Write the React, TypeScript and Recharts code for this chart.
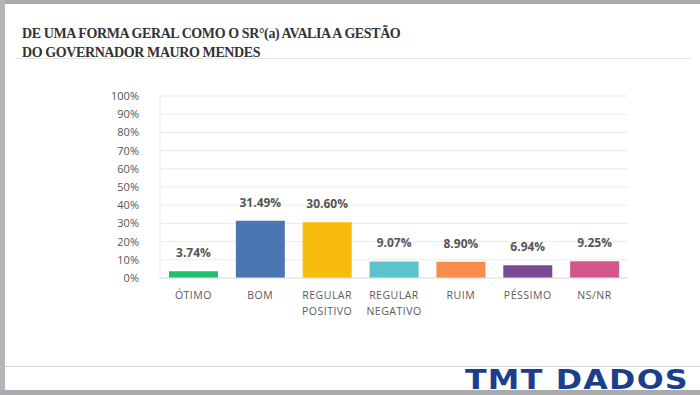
import { BarChart, Bar, XAxis, YAxis, CartesianGrid, Cell, LabelList } from 'recharts'

// Answers and shares (%)
const categories = ['ÓTIMO', 'BOM', 'REGULAR POSITIVO', 'REGULAR NEGATIVO', 'RUIM', 'PÉSSIMO', 'NS/NR']
const shares = [3.74, 31.49, 30.6, 9.07, 8.9, 6.94, 9.25]
const barColors = ['#1fbf6e', '#4a77b4', '#f8bc0c', '#5cc3cd', '#f98b4b', '#7a4b92', '#d4578b']
const yTicks = [0, 10, 20, 30, 40, 50, 60, 70, 80, 90, 100]

const data = categories.map((name, i) => ({ name, value: shares[i] }))

const CategoryTick = (props: any) => {
  const { x, y, payload } = props
  const lines = String(payload.value).split(' ')
  return (
    <text x={x} y={y} textAnchor="middle" fill="#5a5a5a" fontSize={10.5} fontFamily="'Open Sans', sans-serif" letterSpacing={0.5}>
      {lines.map((l: string, i: number) => (
        <tspan key={i} x={x} dy={i === 0 ? 13 : 16}>{l}</tspan>
      ))}
    </text>
  )
}

const App = () => {
  return (
    <div style={{ position: 'fixed', left: 0, top: 0, width: 700, height: 395, background: '#fff', overflow: 'hidden' }}>
      {/* screenshot frame */}
      <div style={{ position: 'absolute', left: 0, top: 0, width: 700, height: 4, background: '#a9aaad' }} />
      <div style={{ position: 'absolute', left: 0, top: 0, width: 5, height: 395, background: '#b4b5b8' }} />
      <div style={{ position: 'absolute', left: 0, top: 390, width: 700, height: 5, background: '#a9aaad' }} />
      <div style={{ position: 'absolute', left: 5, top: 366, width: 695, height: 1, background: '#d4d4d4' }} />

      <div style={{ position: 'absolute', left: 22, top: 24, fontFamily: "'Liberation Serif', serif", fontWeight: 'bold', fontSize: 14, lineHeight: '19px', color: '#333', letterSpacing: -0.4 }}>
        <div>DE UMA FORMA GERAL COMO O SR°(a) AVALIA A GESTÃO</div>
        <div>DO GOVERNADOR MAURO MENDES</div>
      </div>
      <div style={{ position: 'absolute', left: 15, top: 58, width: 675, height: 1, background: '#e4e4e4' }} />

      <div style={{ position: 'absolute', left: 0, top: 0 }}>
        <BarChart width={700} height={395} data={data} margin={{ top: 96, right: 72, bottom: 77, left: 110 }}>
          <CartesianGrid vertical={false} stroke="#ececec" />
          <XAxis
            dataKey="name"
            interval={0}
            height={40}
            axisLine={{ stroke: '#e2e2e2' }}
            tickLine={false}
            tick={<CategoryTick />}
          />
          <YAxis
            domain={[0, 100]}
            ticks={yTicks}
            interval={0}
            width={50}
            axisLine={{ stroke: '#ececec' }}
            tickLine={false}
            tickMargin={15}
            tickFormatter={(v) => `${v}%`}
            tick={{ fontSize: 11, fill: '#555', fontFamily: "'Open Sans', sans-serif" }}
          />
          <Bar dataKey="value" barSize={49} isAnimationActive={false}>
            {data.map((d, i) => (
              <Cell key={d.name} fill={barColors[i]} />
            ))}
            <LabelList
              dataKey="value"
              position="top"
              offset={14}
              formatter={(v: any) => `${Number(v).toFixed(2)}%`}
              style={{ fontSize: 12, fontWeight: 'bold', fill: '#555', fontFamily: "'Open Sans', sans-serif" }}
            />
          </Bar>
        </BarChart>
      </div>

      <div style={{ position: 'absolute', left: 465, top: 366, fontFamily: "'DejaVu Sans', sans-serif", fontWeight: 'bold', fontSize: 26, lineHeight: '28px', color: '#1b3f8c', letterSpacing: 1, transform: 'scaleX(1.22)', transformOrigin: 'left top', whiteSpace: 'nowrap' }}>
        TMT DADOS
      </div>
    </div>
  )
}

export default App
